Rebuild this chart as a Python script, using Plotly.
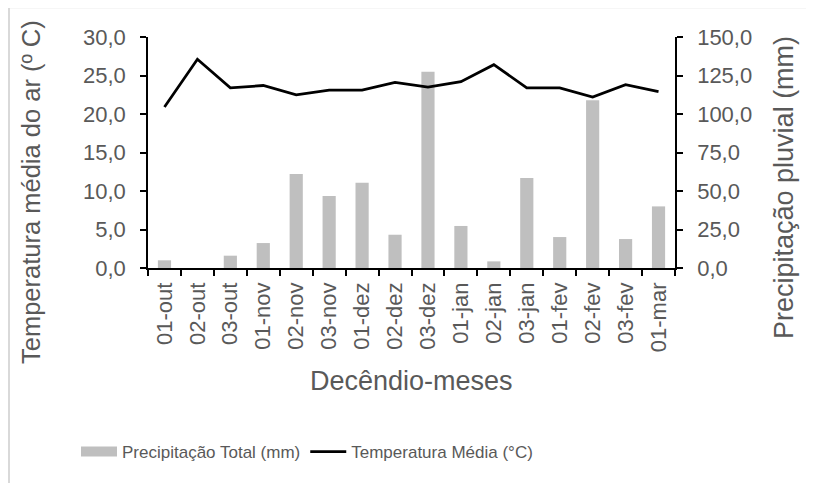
import plotly.graph_objects as go

categories = ["01-out", "02-out", "03-out", "01-nov", "02-nov", "03-nov", "01-dez", "02-dez",
              "03-dez", "01-jan", "02-jan", "03-jan", "01-fev", "02-fev", "03-fev", "01-mar"]
precip_mm = [5.0, 0.0, 8.0, 16.2, 61.0, 46.8, 55.4, 21.6,
             127.5, 27.3, 4.3, 58.4, 20.1, 108.9, 18.8, 40.0]
temp_c = [20.9, 27.1, 23.4, 23.7, 22.5, 23.1, 23.1, 24.1,
          23.5, 24.2, 26.4, 23.4, 23.4, 22.2, 23.8, 22.9]
temp_ticks = [0, 5, 10, 15, 20, 25, 30]
precip_ticks = [0, 25, 50, 75, 100, 125, 150]

FONT = "Liberation Sans, Arial, sans-serif"
GRAY = "#595959"
BAR = "#BFBFBF"

OFF = 8  # page body margin
W, H = 814 - OFF, 483 - OFF
L, R, T, B = 148 - OFF, 675 - OFF, 37 - OFF, 268 - OFF
pw, ph = R - L, B - T

def px(x):  # screen x -> paper
    return (x - OFF - L) / pw

def py(y):  # screen y -> paper
    return (B - (y - OFF)) / ph

fig = go.Figure()
fig.add_trace(go.Bar(x=categories, y=precip_mm, name="Precipitação Total (mm)",
                     marker=dict(color=BAR, line=dict(width=0)), yaxis="y",
                     showlegend=False, legendgroup="p"))
# legend entry for the bars (wide swatch like the original)
fig.add_trace(go.Scatter(x=[None], y=[None], name="Precipitação Total (mm)", mode="lines",
                         line=dict(color=BAR, width=13), yaxis="y", legendgroup="p"))
fig.add_trace(go.Scatter(x=categories, y=temp_c, name="Temperatura Média (°C)",
                         mode="lines", line=dict(color="black", width=2.75), yaxis="y2"))

fmt = lambda v: f"{v:.1f}".replace(".", ",")
axis_common = dict(showline=True, linecolor="black", linewidth=1.5,
                   ticks="outside", ticklen=6, tickcolor="black", tickwidth=1.5,
                   showgrid=False, zeroline=False)

fig.update_layout(
    width=W, height=H,
    margin=dict(l=L, r=W - R, t=T, b=H - B, autoexpand=False),
    paper_bgcolor="white", plot_bgcolor="white",
    font=dict(family=FONT, color=GRAY, size=22),
    bargap=0.6,
    showlegend=True,
    xaxis=dict(type="category", tickson="boundaries", tickangle=-90,
               tickfont=dict(size=22, color=GRAY), ticklabelstandoff=4, **axis_common),
    yaxis=dict(side="right", range=[0, 150], tickvals=precip_ticks,
               ticktext=[fmt(v) for v in precip_ticks], ticklabelstandoff=10,
               tickfont=dict(size=22, color=GRAY), **axis_common),
    yaxis2=dict(side="left", overlaying="y", range=[0, 30], tickvals=temp_ticks,
                ticktext=[fmt(v) for v in temp_ticks], ticklabelstandoff=10,
                tickfont=dict(size=22, color=GRAY), **axis_common),
    legend=dict(orientation="h", x=px(76), y=py(452), xanchor="left", yanchor="middle",
                font=dict(size=17, color=GRAY, family=FONT), itemwidth=36,
                traceorder="normal", bgcolor="rgba(0,0,0,0)", tracegroupgap=0),
    annotations=[
        dict(text="Temperatura média do ar (º C)", x=px(31), y=py(192), xref="paper", yref="paper",
             showarrow=False, textangle=-90, font=dict(size=25.5, color=GRAY),
             xanchor="center", yanchor="middle"),
        dict(text="Precipitação pluvial (mm)", x=px(784), y=py(188), xref="paper", yref="paper",
             showarrow=False, textangle=-90, font=dict(size=27, color=GRAY),
             xanchor="center", yanchor="middle"),
        dict(text="Decêndio-meses", x=px(411), y=py(381), xref="paper", yref="paper",
             showarrow=False, font=dict(size=27, color=GRAY),
             xanchor="center", yanchor="middle"),
    ],
    shapes=[
        dict(type="line", xref="paper", yref="paper", x0=px(8), x1=px(830), y0=py(7.5), y1=py(7.5),
             line=dict(color="#D9D9D9", width=1.5), layer="below"),
        dict(type="line", xref="paper", yref="paper", x0=px(9), x1=px(9), y0=py(7), y1=py(500),
             line=dict(color="#D9D9D9", width=2), layer="below"),
    ],
)

fig.write_html("out.html")
